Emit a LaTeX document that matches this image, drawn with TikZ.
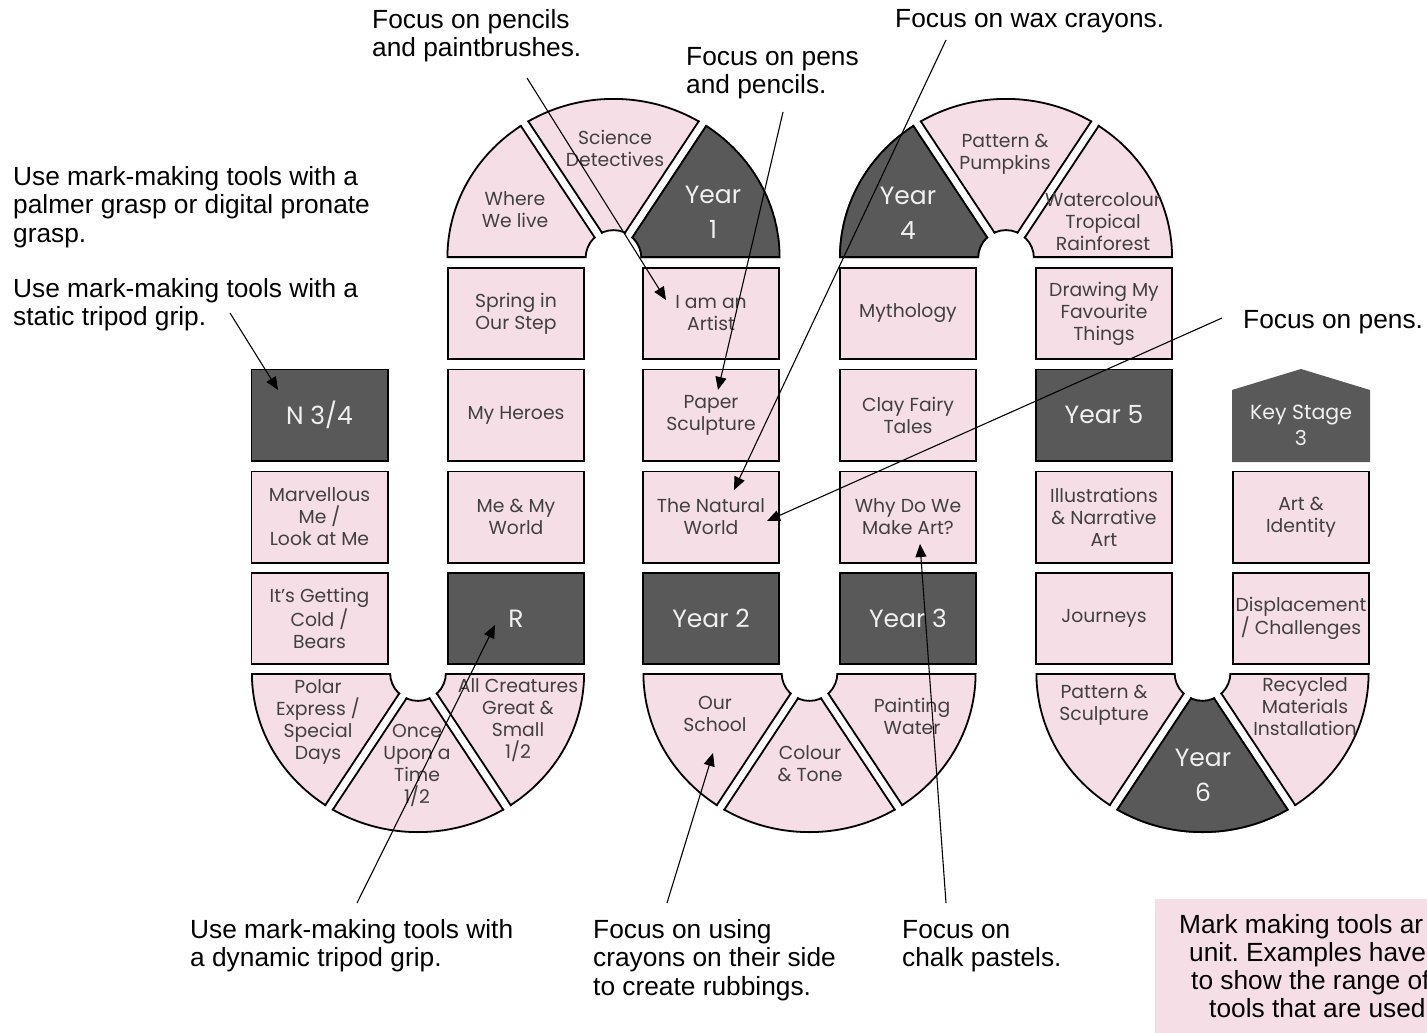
\documentclass[tikz,border=0pt]{standalone}
\usepackage{fontspec}
\setmainfont{Liberation Sans}
\newfontfamily\bxf{Poppins}
\usetikzlibrary{arrows.meta}
\frenchspacing
\definecolor{pinkfill}{RGB}{246,222,231}
\definecolor{darkfill}{RGB}{89,89,89}
\definecolor{boxtext}{RGB}{64,64,64}
\definecolor{yeartext}{RGB}{240,240,240}
\newcommand{\capfont}{\fontsize{26.3}{28.8}\selectfont}
\newcommand{\notefont}{\fontsize{26.3}{28}\selectfont}
\newcommand{\bxfont}{\bxf\fontsize{18.8}{22}\selectfont}
\newcommand{\yrfont}{\bxf\fontsize{25}{35}\selectfont}
\newcommand{\ksfont}{\bxf\fontsize{20.5}{26}\selectfont}
\tikzset{
  pbox/.style={draw=black, line width=1.8pt, fill=pinkfill, minimum width=136.2pt, minimum height=91.2pt, inner sep=0pt, align=center, text=boxtext, font=\bxfont},
  dbox/.style={pbox, fill=darkfill, text=yeartext, font=\yrfont},
  slabel/.style={align=center, text=boxtext, font=\bxfont, inner sep=0pt},
  ylabel/.style={align=center, text=yeartext, font=\yrfont, inner sep=0pt},
  captext/.style={align=left, anchor=base west, inner sep=0pt, font=\capfont, text=black},
  arr/.style={line width=1.1pt, draw=black, -{Triangle[length=13pt,width=11pt]}},
}
\def\rxx{167}\def\ryy{160}\def\rii{27}
% #1 cx, #2 cy, #3 A0 (0 bottom ring, 180 top ring), #4 a, #5 b, #6 ha, #7 hb, #8 fill
\newcommand{\ringseg}[8]{%
  \pgfmathsetmacro{\oxA}{#1+\rxx*cos(#3)}%
  \pgfmathsetmacro{\oxB}{#1+\rii*cos(#3+180)}%
  \pgfmathsetmacro{\aE}{#3+180}%
  \pgfmathsetmacro{\pax}{#1-#6*sin(#4)}\pgfmathsetmacro{\pay}{#2+#6*cos(#4)}%
  \pgfmathsetmacro{\qax}{#1+400*cos(#4)-#6*sin(#4)}\pgfmathsetmacro{\qay}{#2+400*sin(#4)+#6*cos(#4)}%
  \pgfmathsetmacro{\qbx}{#1+400*cos(#5)+#7*sin(#5)}\pgfmathsetmacro{\qby}{#2+400*sin(#5)-#7*cos(#5)}%
  \pgfmathsetmacro{\pbx}{#1+#7*sin(#5)}\pgfmathsetmacro{\pby}{#2-#7*cos(#5)}%
  \begin{scope}
    \clip (\oxA,#2) arc[start angle=#3, end angle=\aE, x radius=\rxx, y radius=\ryy] -- (\oxB,#2) arc[start angle=\aE, end angle=#3, radius=\rii] -- cycle;
    \clip (\pax,\pay) -- (\qax,\qay) -- (\qbx,\qby) -- (\pbx,\pby) -- cycle;
    \fill[#8] (\oxA,#2) arc[start angle=#3, end angle=\aE, x radius=\rxx, y radius=\ryy] -- (\oxB,#2) arc[start angle=\aE, end angle=#3, radius=\rii] -- cycle;
    \draw[line width=3.6pt] (\oxA,#2) arc[start angle=#3, end angle=\aE, x radius=\rxx, y radius=\ryy] -- (\oxB,#2) arc[start angle=\aE, end angle=#3, radius=\rii] -- cycle;
    \draw[line width=3.6pt] (\pax,\pay) -- (\qax,\qay) -- (\qbx,\qby) -- (\pbx,\pby) -- cycle;
  \end{scope}}
\begin{document}
\begin{tikzpicture}[x=1pt,y=-1pt]
\clip (0,0) rectangle (1427,1033);
\fill[white] (0,0) rectangle (1427,1033);

% ---------- top rings ----------
\ringseg{613.5}{258}{180}{160}{236.5}{0}{3.5}{pinkfill}
\ringseg{613.5}{258}{180}{236.5}{303.5}{3.5}{3.5}{pinkfill}
\ringseg{613.5}{258}{180}{303.5}{380}{3.5}{0}{darkfill}
\ringseg{1006}{258}{180}{160}{236.5}{0}{3.5}{darkfill}
\ringseg{1006}{258}{180}{236.5}{303.5}{3.5}{3.5}{pinkfill}
\ringseg{1006}{258}{180}{303.5}{380}{3.5}{0}{pinkfill}
% ---------- bottom rings ----------
\ringseg{418}{673}{0}{-20}{56.5}{0}{3.5}{pinkfill}
\ringseg{418}{673}{0}{56.5}{123.5}{3.5}{3.5}{pinkfill}
\ringseg{418}{673}{0}{123.5}{200}{3.5}{0}{pinkfill}
\ringseg{809.5}{673}{0}{-20}{56.5}{0}{3.5}{pinkfill}
\ringseg{809.5}{673}{0}{56.5}{123.5}{3.5}{3.5}{pinkfill}
\ringseg{809.5}{673}{0}{123.5}{200}{3.5}{0}{pinkfill}
\ringseg{1202.5}{673}{0}{-20}{56.5}{0}{3.5}{pinkfill}
\ringseg{1202.5}{673}{0}{56.5}{123.5}{3.5}{3.5}{darkfill}
\ringseg{1202.5}{673}{0}{123.5}{200}{3.5}{0}{pinkfill}

% segment labels
\node[slabel] (where) at (515,210) {Where\\We live};
\node[slabel] (sci) at (615,148) {Science\\Detectives};
\node[ylabel] (y1) at (713,212) {Year\\1};
\node[ylabel] (y4) at (908,213) {Year\\4};
\node[slabel] (pump) at (1005,154) {Pattern \&\\Pumpkins};
\node[slabel] (water) at (1103,222) {Watercolour\\Tropical\\Rainforest};
\node[slabel] (polar) at (318,722) {Polar\\Express /\\Special\\Days};
\node[slabel] (once) at (417,765) {Once\\Upon a\\Time\\1/2};
\node[slabel] (allc) at (518,720) {All Creatures\\Great \&\\Small\\1/2};
\node[slabel] (school) at (715,714) {Our\\School};
\node[slabel] (colour) at (810,764) {Colour\\\& Tone};
\node[slabel] (paint) at (912,716) {Painting\\Water};
\node[slabel] (patsc) at (1104,705) {Pattern \&\\Sculpture};
\node[ylabel] (y6) at (1203,775) {Year\\6};
\node[slabel] (recyc) at (1305,707) {Recycled\\Materials\\Installation};

% ---------- column boxes ----------
\node[dbox] (n34) at (319.5,415) {N 3/4};
\node[pbox] (marv) at (319.5,517) {Marvellous\\Me /\\Look at Me};
\node[pbox] (cold) at (319.5,618.5) {It’s Getting\\Cold /\\Bears};

\node[pbox] (spring) at (516,313.5) {Spring in\\Our Step};
\node[pbox] (heroes) at (516,415) {My Heroes};
\node[pbox] (meworld) at (516,517) {Me \& My\\World};
\node[dbox] (rbox) at (516,618.5) {R};

\node[pbox] (artist) at (711,313.5) {I am an\\Artist};
\node[pbox] (paper) at (711,415) {Paper\\Sculpture};
\node[pbox] (natural) at (711,517) {The Natural\\World};
\node[dbox] (y2) at (711,618.5) {Year 2};

\node[pbox] (myth) at (908,313.5) {Mythology};
\node[pbox] (clay) at (908,415) {Clay Fairy\\Tales};
\node[pbox] (why) at (908,517) {Why Do We\\Make Art?};
\node[dbox] (y3) at (908,618.5) {Year 3};

\node[pbox] (drawing) at (1104,313.5) {Drawing My\\Favourite\\Things};
\node[dbox] (y5) at (1104,415) {Year 5};
\node[pbox] (illus) at (1104,517) {Illustrations\\\& Narrative\\Art};
\node[pbox] (journ) at (1104,618.5) {Journeys};

\fill[darkfill] (1232,462) -- (1232,390) -- (1301,369) -- (1370,390) -- (1370,462) -- cycle;
\node[align=center, text=yeartext, font=\ksfont, inner sep=0pt] (ks3) at (1301,425) {Key Stage\\3};
\node[pbox] (ident) at (1301,517) {Art \&\\Identity};
\node[pbox] (displ) at (1301,618.5) {Displacement\\/ Challenges};

% ---------- captions (anchor = baseline of last line) ----------
\node[captext] (capL1) at (13,242.6) {Use mark-making tools with a\\palmer grasp or digital pronate\\grasp.};
\node[captext] (capL2) at (13,325.8) {Use mark-making tools with a\\static tripod grip.};
\node[captext] (capT1) at (372,56.8) {Focus on pencils\\and paintbrushes.};
\node[captext] (capT2) at (686,93.8) {Focus on pens\\and pencils.};
\node[captext] (capT3) at (895,28) {Focus on wax crayons.};
\node[captext] (capR) at (1243,328) {Focus on pens.};
\node[captext] (capB1) at (190,966.8) {Use mark-making tools with\\a dynamic tripod grip.};
\node[captext] (capB2) at (593,995.6) {Focus on using\\crayons on their side\\to create rubbings.};
\node[captext] (capB3) at (902,966.8) {Focus on\\chalk pastels.};

% note box (cut by the page edge)
\fill[pinkfill] (1155,899) rectangle (1440,1045);
\node[captext, font=\notefont] (note) at (1179,1017) {Mark making tools ar\\\hspace*{10pt}unit. Examples have\\\hspace*{12pt}to show the range of\\\hspace*{30pt}tools that are used};

% ---------- connectors ----------
\coordinate (s1) at (527,78);   \coordinate (t1) at (666,300);
\coordinate (s2) at (783,112);  \coordinate (t2) at (718,390);
\coordinate (s3) at (946,40);   \coordinate (t3) at (734,490);
\coordinate (s4) at (1222,318); \coordinate (t4) at (767,521);
\coordinate (s5) at (230,313);  \coordinate (t5) at (278,390);
\coordinate (s6) at (357,903);  \coordinate (t6) at (495,625);
\coordinate (s7) at (667,903);  \coordinate (t7) at (713,753);
\coordinate (s8) at (946,903);  \coordinate (t8) at (920,544);
\draw[arr] (s1) -- (t1);
\draw[arr] (s2) -- (t2);
\draw[arr] (s3) -- (t3);
\draw[arr] (s4) -- (t4);
\draw[arr] (s5) -- (t5);
\draw[arr] (s6) -- (t6);
\draw[arr] (s7) -- (t7);
\draw[arr] (s8) -- (t8);
\end{tikzpicture}
\end{document}
